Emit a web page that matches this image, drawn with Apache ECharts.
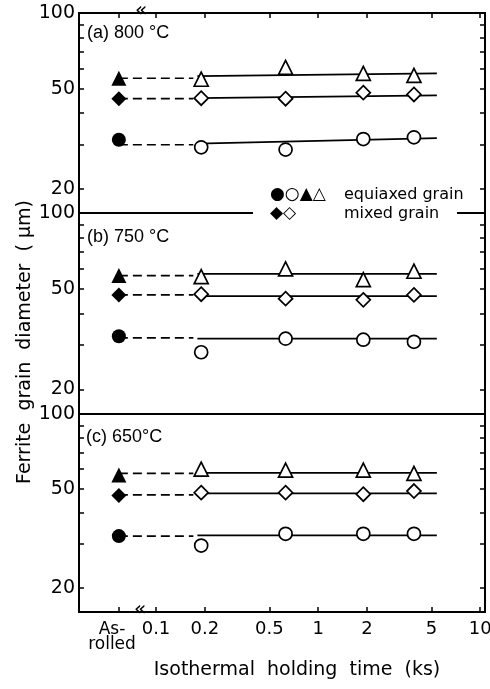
<!DOCTYPE html>
<html>
<head>
<meta charset="utf-8">
<script src="https://cdn.jsdelivr.net/npm/echarts@6/dist/echarts.min.js"></script>
<style>
  html, body { margin: 0; padding: 0; background: #fff; }
  #chart { width: 490px; height: 689px; }
</style>
</head>
<body>
<div id="chart"></div>
<script>
// x positions (ks); as-rolled is drawn left of the axis break
const asRolledX = 0.059;
const holdTimes = [0.19, 0.63, 1.9, 3.9];
const xTickValues = [0.059, 0.1, 0.2, 0.5, 1, 2, 5, 10];
const xLabelValues = [0.1, 0.2, 0.5, 1, 2, 5, 10];
const yLabelValues = [20, 50, 100];
const yTickValues = [20, 30, 40, 50, 60, 70, 80, 90, 100];
const panelTitles = ['(a) 800 °C', '(b) 750 °C', '(c) 650°C'];

// (a) 800 °C  — as-rolled [triangle, diamond, circle], then held samples
const asRolledA = [55.0, 45.6, 31.3];
const triA = [54.5, 60.8, 57.5, 56.5];
const diaA = [45.8, 45.6, 48.2, 47.4];
const cirA = [29.2, 28.6, 31.5, 32.0];
const dashA = [55.0, 45.6, 29.9];
const solidA = [[56.1, 57.5], [45.8, 47.0], [30.2, 31.8]];

// (b) 750 °C
const asRolledB = [56.5, 47.4, 32.5];
const triB = [56.0, 60.1, 54.5, 58.8];
const diaB = [47.7, 45.8, 45.3, 47.4];
const cirB = [28.1, 31.8, 31.5, 30.9];
const dashB = [56.5, 47.4, 32.0];
const solidB = [[57.4, 57.4], [46.9, 46.9], [31.8, 31.8]];

// (c) 650 °C
const asRolledC = [56.8, 47.0, 32.3];
const triC = [60.0, 59.5, 59.5, 57.7];
const diaC = [48.3, 48.3, 47.6, 49.0];
const cirC = [29.6, 33.0, 33.0, 33.0];
const dashC = [57.7, 47.3, 32.3];
const solidC = [[58.0, 58.0], [48.0, 48.0], [32.5, 32.5]];

const dashEnd = 0.17, solidStart = 0.18, solidEnd = 5.4;

const panels = [
  { asRolled: asRolledA, open: [triA, diaA, cirA], dash: dashA, solid: solidA },
  { asRolled: asRolledB, open: [triB, diaB, cirB], dash: dashB, solid: solidB },
  { asRolled: asRolledC, open: [triC, diaC, cirC], dash: dashC, solid: solidC },
];
const shapes = ['triangle', 'diamond', 'circle'];
const shapeSize = [14, 14, 13];

const FONT = 'DejaVu Sans';
const grids = [
  { left: 79, right: 5, top: 13, height: 200 },
  { left: 79, right: 5, top: 213, height: 201 },
  { left: 79, right: 5, top: 414, height: 198 },
];

const chart = echarts.init(document.getElementById('chart'));

const xAxes = [];
const yAxes = [];
grids.forEach((g, i) => {
  xAxes.push({
    type: 'log', gridIndex: i, min: 0.0335, max: 10.7,
    axisLine: { show: false }, splitLine: { show: false },
    axisTick: { show: i === 2, inside: true, length: 5, customValues: xTickValues,
      lineStyle: { color: '#000', width: 1.5 } },
    axisLabel: {
      show: i === 2, margin: 8, customValues: xLabelValues,
      showMinLabel: true, showMaxLabel: true,
      color: '#000', fontFamily: FONT, fontSize: 18,
      formatter: v => String(+v.toPrecision(2)),
    },
  });
  yAxes.push({
    type: 'log', gridIndex: i, min: 16, max: 100,
    axisLine: { show: false }, splitLine: { show: false },
    axisTick: { inside: true, length: 5, customValues: yTickValues,
      lineStyle: { color: '#000', width: 1.5 } },
    axisLabel: { margin: 4, customValues: yLabelValues, color: '#000',
      showMaxLabel: true, fontFamily: FONT, fontSize: 19 },
  });
  yAxes.push({
    type: 'log', gridIndex: i, min: 16, max: 100, position: 'right',
    axisLine: { show: false }, splitLine: { show: false },
    axisTick: { inside: true, length: 5, customValues: yTickValues,
      lineStyle: { color: '#000', width: 1.5 } },
    axisLabel: { show: false },
  });
});
// top ticks on panel (a)
xAxes.push({
  type: 'log', gridIndex: 0, position: 'top', min: 0.0335, max: 10.7,
  axisLine: { show: false }, splitLine: { show: false },
  axisTick: { inside: true, length: 5, customValues: xTickValues,
    lineStyle: { color: '#000', width: 1.5 } },
  axisLabel: { show: false },
});

const series = [];
panels.forEach((p, i) => {
  const axes = { xAxisIndex: i, yAxisIndex: i * 2 };
  shapes.forEach((shape, k) => {
    series.push({
      type: 'line', ...axes, symbol: 'none', silent: true,
      lineStyle: { color: '#000', width: 1.7, type: [9, 5] },
      data: [[asRolledX, p.dash[k]], [dashEnd, p.dash[k]]], z: 2,
    });
    series.push({
      type: 'line', ...axes, symbol: 'none', silent: true,
      lineStyle: { color: '#000', width: 1.7 },
      data: [[solidStart, p.solid[k][0]], [solidEnd, p.solid[k][1]]], z: 2,
    });
    series.push({
      type: 'scatter', ...axes, symbol: shape, symbolSize: shapeSize[k],
      itemStyle: { color: '#fff', borderColor: '#000', borderWidth: 1.7, opacity: 1 },
      data: holdTimes.map((t, j) => [t, p.open[k][j]]), z: 5,
    });
    series.push({
      type: 'scatter', ...axes, symbol: shape, symbolSize: shapeSize[k] + 1,
      itemStyle: { color: '#000', opacity: 1 },
      data: [[asRolledX, p.asRolled[k]]], z: 5,
    });
  });
});

const txt = (x, y, text, size, align, family) => ({
  type: 'text', x, y, z: 100,
  style: { text, fill: '#000', font: size + 'px "' + (family || FONT) + '"',
    textAlign: align || 'left', textVerticalAlign: 'middle' },
});

const graphic = [
  // gap in the (a)/(b) border for the legend
  { type: 'rect', shape: { x: 253, y: 206, width: 204, height: 16 },
    style: { fill: '#fff' }, z: 90 },
  txt(270, 195, '●○▲△', 17),
  txt(270, 214, '◆◇', 17),
  txt(344, 195, 'equiaxed grain', 16),
  txt(344, 214, 'mixed grain', 16),
  txt(87, 33, panelTitles[0], 18, 'left', 'Liberation Sans'),
  txt(87, 237, panelTitles[1], 18, 'left', 'Liberation Sans'),
  txt(86, 437, panelTitles[2], 18, 'left', 'Liberation Sans'),
  txt(141, 11, '«', 20, 'center'),
  txt(140, 610, '«', 20, 'center'),
  // as-rolled label sits left of the axis break
  { type: 'text', x: 112, y: 622, z: 100,
    style: { text: 'As-\nrolled', fill: '#000', font: '17px "' + FONT + '"',
      lineHeight: 15, textAlign: 'center', textVerticalAlign: 'top' } },
  txt(297, 670, 'Isothermal  holding  time  (ks)', 19, 'center'),
  Object.assign(txt(25, 342, 'Ferrite  grain  diameter  ( μm)', 19, 'center'),
    { rotation: Math.PI / 2 }),
];

chart.setOption({
  animation: false,
  backgroundColor: '#fff',
  grid: grids.map(g => Object.assign({
    show: true, borderColor: '#000', borderWidth: 2, outerBoundsMode: 'none',
  }, g)),
  xAxis: xAxes,
  yAxis: yAxes,
  series,
  graphic,
});
</script>
</body>
</html>
